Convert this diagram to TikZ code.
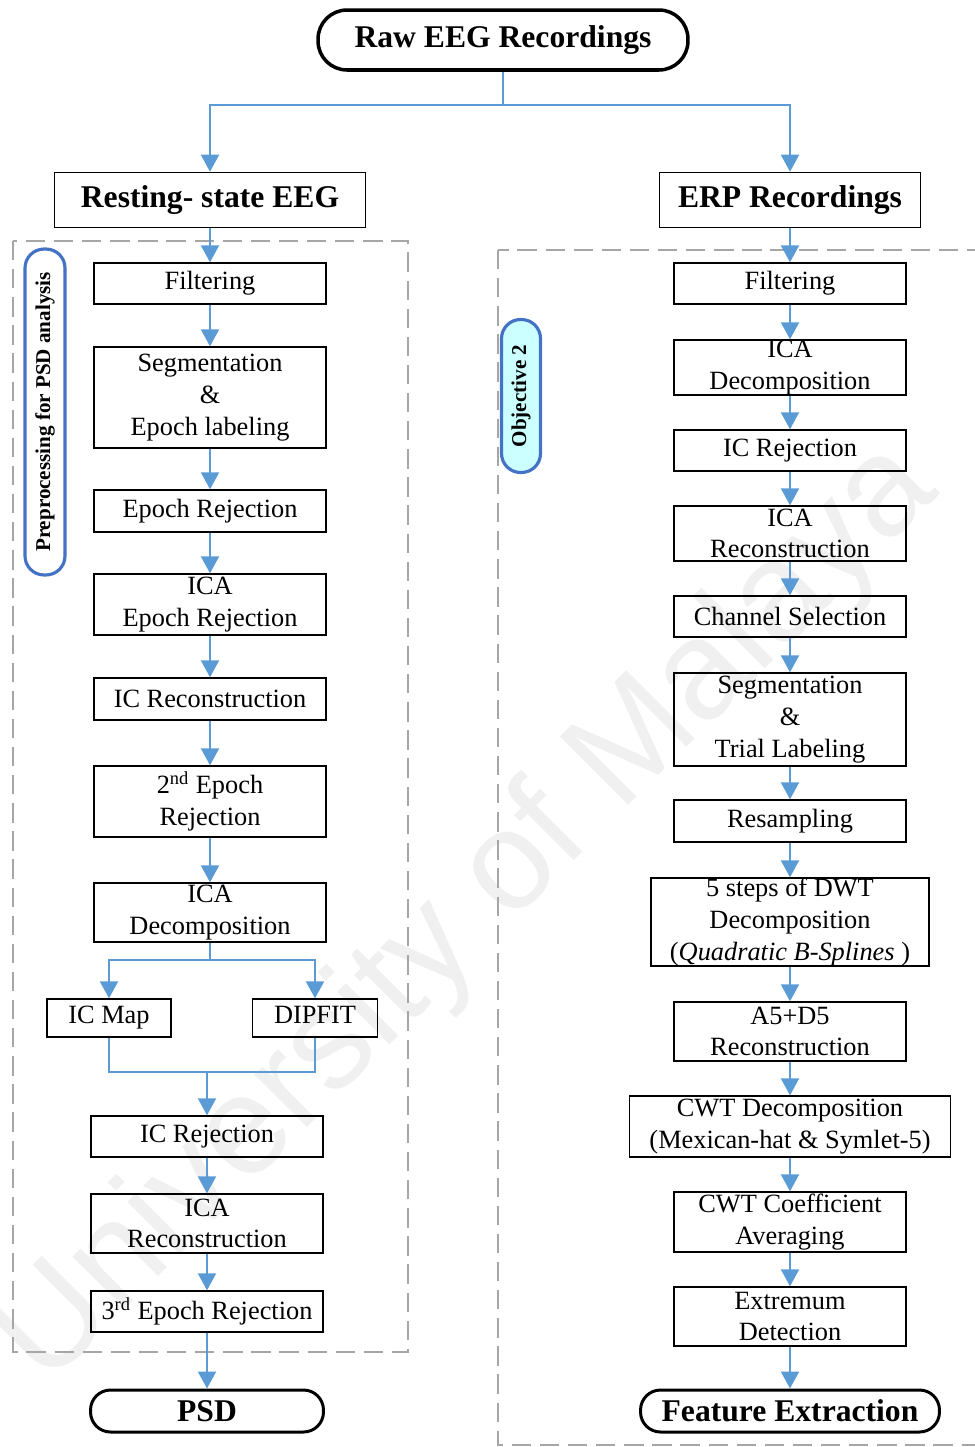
\documentclass[tikz,border=0pt]{standalone}
\usepackage{fontspec}
\setmainfont{Liberation Serif}
\newfontfamily\wmfont{Liberation Sans}
\usetikzlibrary{arrows.meta, positioning}
\definecolor{lnk}{HTML}{5B9BD5}
\definecolor{tagb}{HTML}{4472C4}
\definecolor{cyn}{HTML}{CCFFFF}
\definecolor{dsh}{HTML}{A6A6A6}
\tikzset{
  proc/.style  = {rectangle, draw=black, line width=0.8pt, inner sep=0pt,
                  minimum width=4.64cm, align=center,
                  font=\fontsize{15}{18}\selectfont},
  hdr/.style   = {rectangle, draw=black, line width=0.9pt, inner sep=0pt,
                  minimum height=1.1cm, align=center,
                  font=\fontsize{18}{21}\selectfont\bfseries},
  term/.style  = {rectangle, rounded corners=0.4cm, draw=black, line width=1.7pt,
                  inner sep=0pt, minimum height=0.84cm,
                  font=\fontsize{18}{21}\selectfont\bfseries},
  tag/.style   = {rectangle, rounded corners=0.38cm, draw=tagb, line width=1.8pt,
                  rotate=90, inner sep=0pt, font=\fontsize{12}{14}\selectfont\bfseries},
  wire/.style  = {draw=lnk, line width=1.2pt},
  arr/.style   = {wire, -{Triangle[width=0.36cm, length=0.34cm]}},
  grp/.style   = {draw=dsh, line width=1.3pt, dash pattern=on 11pt off 5pt},
  wmark/.style = {rotate=45, text=black!6, font=\wmfont\fontsize{80}{90}\selectfont},
}
\begin{document}
\begin{tikzpicture}[x=0.02cm, y=-0.02cm]
  \useasboundingbox (0,0) rectangle (974,1447);

  % watermark and the two dashed groups
  \node[wmark] (wm) at (468,915) {University of Malaya};
  \draw[grp] (13,241) rectangle (408,1352);
  \draw[grp] (498,250) rectangle (995,1445);

  \node[term, rounded corners=0.58cm, line width=2pt, minimum width=7.4cm,
        minimum height=1.2cm] (raw) at (503,40) {Raw EEG Recordings};
  \node[hdr, minimum width=6.22cm] (rest) at (210,200) {Resting- state EEG};
  \node[hdr, minimum width=5.22cm] (erp)  at (790,200) {ERP Recordings};

  \node[tag, fill=white, minimum width=6.52cm, minimum height=0.8cm] (prep)
        at (45,412) {Preprocessing for PSD analysis};
  \node[tag, fill=cyn, minimum width=3.06cm, minimum height=0.78cm] (obj)
        at (521,396) {Objective 2};

  % resting-state column
  \node[proc, minimum height=0.82cm] (lfilt) at (210,283.5) {Filtering};
  \node[proc, minimum height=2.02cm] (lseg)  at (210,397.5) {Segmentation\\\&\\Epoch labeling};
  \node[proc, minimum height=0.84cm] (lepr)  at (210,511)   {Epoch Rejection};
  \node[proc, minimum height=1.22cm] (licae) at (210,604.5) {ICA\\Epoch Rejection};
  \node[proc, minimum height=0.84cm] (licr)  at (210,699)   {IC Reconstruction};
  \node[proc, minimum height=1.42cm] (lep2)  at (210,801.5) {2\textsuperscript{nd} Epoch\\Rejection};
  \node[proc, minimum height=1.18cm] (licad) at (210,912.5) {ICA\\Decomposition};
  \node[proc, minimum width=2.48cm, minimum height=0.76cm] (lmap) at (109,1018) {IC Map};
  \node[proc, minimum width=2.5cm, minimum height=0.76cm, text depth=3.2pt] (ldip)
        at (315,1018) {DIPFIT};
  \node[proc, minimum height=0.82cm] (lrej)  at (207,1136.5) {IC Rejection};
  \node[proc, minimum height=1.18cm] (lrec)  at (207,1223.5) {ICA\\Reconstruction};
  \node[proc, minimum height=0.82cm] (lep3)  at (207,1311.5) {3\textsuperscript{rd} Epoch Rejection};
  \node[term, minimum width=4.66cm] (psd) at (207,1411) {PSD};

  % ERP column
  \node[proc, minimum height=0.82cm] (rfilt) at (790,283.5)  {Filtering};
  \node[proc, minimum height=1.1cm]  (rica)  at (790,367.5)  {ICA\\Decomposition};
  \node[proc, minimum height=0.82cm] (rrej)  at (790,450.5)  {IC Rejection};
  \node[proc, minimum height=1.1cm]  (rrec)  at (790,533.5)  {ICA\\Reconstruction};
  \node[proc, minimum height=0.82cm] (rchan) at (790,616.5)  {Channel Selection};
  \node[proc, minimum height=1.86cm] (rseg)  at (790,719.5)  {Segmentation\\\&\\Trial Labeling};
  \node[proc, minimum height=0.84cm] (rres)  at (790,821)    {Resampling};
  \node[proc, minimum width=5.56cm, minimum height=1.76cm] (rdwt) at (790,922)
        {5 steps of DWT\\Decomposition\\(\textit{Quadratic B-Splines} )};
  \node[proc, minimum height=1.18cm] (rrec5) at (790,1031.5) {A5+D5\\Reconstruction};
  \node[proc, minimum width=6.42cm, minimum height=1.22cm] (rcwt) at (790,1126.5)
        {CWT Decomposition\\(Mexican-hat \& Symlet-5)};
  \node[proc, minimum height=1.2cm]  (ravg)  at (790,1222)   {CWT Coefficient\\Averaging};
  \node[proc, minimum height=1.18cm] (rext)  at (790,1316.5) {Extremum\\Detection};
  \node[term, minimum width=5.98cm] (feat) at (790,1411) {Feature Extraction};

  % connectors
  \coordinate (spl) at (503,105);
  \draw[wire] (raw) -- (spl);
  \draw[arr] (spl) -| (rest);
  \draw[arr] (spl) -| (erp);

  \foreach \i/\j in {rest/lfilt, lfilt/lseg, lseg/lepr, lepr/licae, licae/licr,
                     licr/lep2, lep2/licad, lrej/lrec, lrec/lep3, lep3/psd}
    \draw[arr] (\i) -- (\j);

  \coordinate (brn) at (210,960);
  \coordinate (mrg) at (207,1072);
  \draw[wire] (licad) -- (brn);
  \draw[arr] (brn) -| (lmap);
  \draw[arr] (brn) -| (ldip);
  \draw[wire] (lmap.south) |- (mrg) -| (ldip.south);
  \draw[arr] (mrg) -- (lrej);

  \foreach \i/\j in {erp/rfilt, rfilt/rica, rica/rrej, rrej/rrec, rrec/rchan,
                     rchan/rseg, rseg/rres, rres/rdwt, rdwt/rrec5, rrec5/rcwt,
                     rcwt/ravg, ravg/rext, rext/feat}
    \draw[arr] (\i) -- (\j);

\end{tikzpicture}
\end{document}
